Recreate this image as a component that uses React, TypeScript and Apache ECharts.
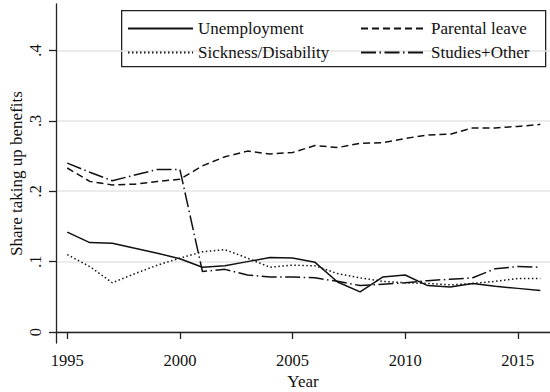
import React, { useEffect, useRef } from "react";
import * as echarts from "echarts";

const years = [1995, 1996, 1997, 1998, 1999, 2000, 2001, 2002, 2003, 2004, 2005, 2006, 2007, 2008, 2009, 2010, 2011, 2012, 2013, 2014, 2015, 2016];
const unemployment = [0.142, 0.127, 0.126, 0.119, 0.112, 0.104, 0.092, 0.094, 0.1, 0.106, 0.105, 0.099, 0.071, 0.057, 0.078, 0.081, 0.066, 0.064, 0.069, 0.065, 0.062, 0.059];
const sickness = [0.11, 0.093, 0.07, 0.083, 0.095, 0.105, 0.114, 0.117, 0.105, 0.092, 0.095, 0.094, 0.083, 0.077, 0.072, 0.07, 0.069, 0.067, 0.069, 0.072, 0.076, 0.076];
const parental = [0.233, 0.214, 0.209, 0.21, 0.214, 0.217, 0.236, 0.249, 0.257, 0.253, 0.255, 0.265, 0.262, 0.268, 0.269, 0.275, 0.28, 0.281, 0.29, 0.29, 0.292, 0.295];
const studies = [0.24, 0.227, 0.215, 0.223, 0.231, 0.231, 0.086, 0.089, 0.081, 0.078, 0.078, 0.077, 0.072, 0.066, 0.068, 0.07, 0.073, 0.075, 0.077, 0.09, 0.093, 0.092];
const yTicks = [0, 0.1, 0.2, 0.3, 0.4];
const xTicks = [1995, 2000, 2005, 2010, 2015];

const FONT = "Liberation Serif";

export default function App() {
  const ref = useRef<HTMLDivElement>(null);
  useEffect(() => {
    const chart = echarts.init(ref.current!, null, { renderer: "svg" });
    const pair = (arr: number[]) => years.map((y, i) => [y, arr[i]]);
    const lineSeries = (name: string, arr: number[], type: any) => ({
      name,
      type: "line",
      data: pair(arr),
      symbol: "none",
      lineStyle: { color: "#111", width: 1.5, type },
      itemStyle: { color: "#111" },
    });
    const legendBase = {
      orient: "vertical",
      top: 20,
      padding: 0,
      itemWidth: 65,
      itemHeight: 10,
      itemGap: 7,
      itemTextGap: 10,
      itemStyle: { color: "transparent", borderColor: "transparent", borderWidth: 0, opacity: 0 },
      textStyle: { fontFamily: FONT, fontSize: 17, color: "#111", lineHeight: 17 },
    };
    chart.setOption({
      animation: false,
      backgroundColor: "#fff",
      textStyle: { fontFamily: FONT },
      grid: { left: 56, right: 0, top: 4, bottom: 49, outerBoundsMode: "none", containLabel: false },
      xAxis: {
        type: "value",
        min: 1994.5,
        max: 2016.43,
        name: "Year",
        nameLocation: "middle",
        nameGap: 30,
        nameMoveOverlap: false,
        nameTextStyle: { fontFamily: FONT, fontSize: 17, color: "#111" },
        axisLine: { lineStyle: { color: "#222", width: 1.3 } },
        axisTick: { show: true, length: 7, customValues: xTicks, lineStyle: { color: "#222", width: 1.3 } },
        axisLabel: {
          customValues: xTicks,
          margin: 9,
          fontFamily: FONT,
          fontSize: 16.5,
          color: "#111",
          formatter: (v: number) => String(v),
        },
        splitLine: { show: false },
      },
      yAxis: {
        type: "value",
        min: -0.0156,
        max: 0.466,
        name: "Share taking up benefits",
        nameLocation: "middle",
        nameGap: 31,
        nameMoveOverlap: false,
        nameTextStyle: { fontFamily: FONT, fontSize: 17, color: "#111" },
        axisLine: { show: true, lineStyle: { color: "#222", width: 1.3 } },
        axisTick: { show: true, length: 7, customValues: yTicks, lineStyle: { color: "#222", width: 1.3 } },
        axisLabel: {
          customValues: yTicks,
          rotate: 90,
          margin: 12,
          fontFamily: FONT,
          fontSize: 16.5,
          color: "#111",
          formatter: (v: number) => (v === 0 ? "0" : String(Math.round(v * 10) / 10).replace(/^0/, "")),
        },
        splitLine: { show: true, lineStyle: { color: "#e4e4e4", width: 1.5 } },
      },
      legend: [
        { ...legendBase, left: 127, data: ["Unemployment", "Sickness/Disability"] },
        { ...legendBase, left: 360, data: ["Parental leave", "Studies+Other"] },
      ],
      graphic: [
        {
          type: "rect",
          left: 121,
          top: 10,
          shape: { width: 424, height: 56 },
          style: { fill: "#fff", stroke: "#222", lineWidth: 1.3 },
          z: 0,
          silent: true,
        },
      ],
      series: [
        lineSeries("Unemployment", unemployment, "solid"),
        lineSeries("Sickness/Disability", sickness, [1.5, 2.5]),
        lineSeries("Parental leave", parental, [7, 4]),
        lineSeries("Studies+Other", studies, [15, 3.5, 1.5, 3.5]),
      ],
    });
    return () => chart.dispose();
  }, []);
  return <div ref={ref} style={{ position: "fixed", left: 0, top: 0, width: 550, height: 392 }} />;
}
